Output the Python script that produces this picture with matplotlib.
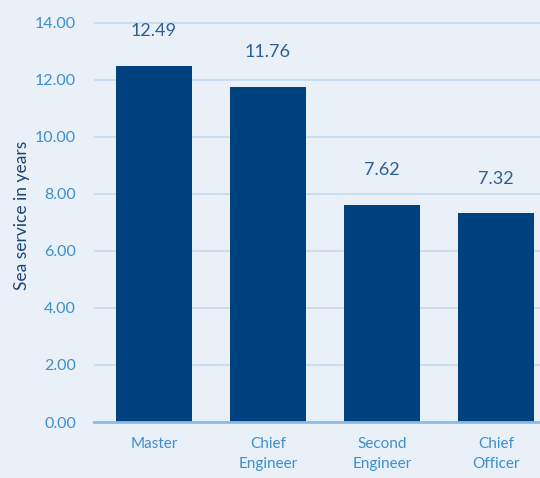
import matplotlib
matplotlib.use("Agg")
import matplotlib.pyplot as plt

# data
categories = ["Master", "Chief\nEngineer", "Second\nEngineer", "Chief\nOfficer"]
values = [12.49, 11.76, 7.62, 7.32]
yticks = [0, 2, 4, 6, 8, 10, 12, 14]

plt.rcParams['font.family'] = ['Lato', 'DejaVu Sans']

bg = '#e9f0f8'
bar_color = '#00427f'
tick_color = '#3d8fc9'

fig = plt.figure(figsize=(5.40, 4.78), dpi=100, facecolor=bg)
# axes from x=94 to 540 px, y=0 to 422 px (top)
ax = fig.add_axes([94 / 540, (478 - 422) / 478, (540 - 94) / 540, 422 / 478])
ax.set_facecolor(bg)

x = list(range(len(categories)))
ax.bar(x, values, width=0.667, color=bar_color, zorder=3)

for xi, v in zip(x, values):
    ax.annotate(f"{v:.2f}", (xi, v), xytext=(0, 25), textcoords='offset points',
                ha='center', va='center', fontsize=13, color='#2d5f97')

ax.set_xlim(-0.526, 3.386)
ax.set_ylim(0, 14.8)
ax.set_yticks(yticks)
ax.set_yticklabels([f"{t:.2f}" for t in yticks])
ax.set_xticks(x)
ax.set_xticklabels(categories, linespacing=1.5)

ax.grid(axis='y', color='#c4dbef', linewidth=1.2, zorder=0)
ax.grid(axis='x', visible=False)
for s in ['top', 'right', 'left']:
    ax.spines[s].set_visible(False)
ax.spines['bottom'].set_color('#8cbce3')
ax.spines['bottom'].set_linewidth(2)
ax.spines['bottom'].set_zorder(4)

ax.tick_params(axis='y', length=0, pad=13, labelsize=11.5, labelcolor=tick_color)
ax.tick_params(axis='x', length=0, pad=11, labelsize=11, labelcolor=tick_color)

ax.set_ylabel("Sea service in years", fontsize=12.5, color='#1d4576')
ax.yaxis.set_label_coords(-0.143, 0.49)

fig.savefig("out.png", dpi=100, facecolor=bg)
